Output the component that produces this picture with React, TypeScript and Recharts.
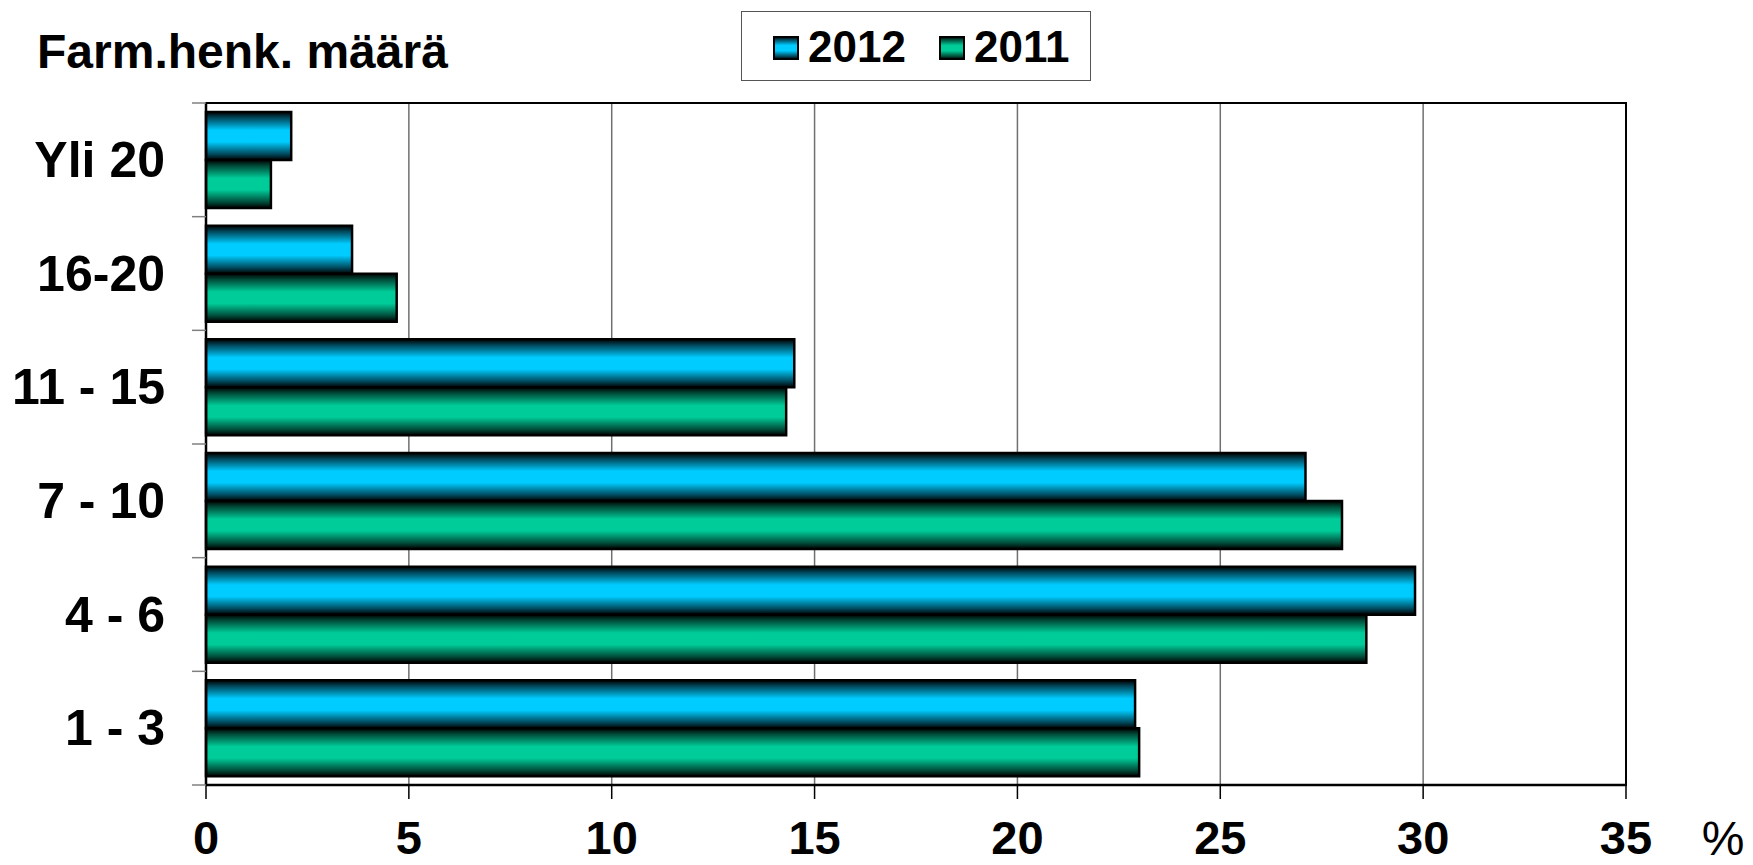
import React from 'react';
import { BarChart, Bar, XAxis, YAxis, CartesianGrid, ReferenceArea, Legend } from 'recharts';

const categories = ['Yli 20', '16-20', '11 - 15', '7 - 10', '4 - 6', '1 - 3'];
const values2012 = [2.1, 3.6, 14.5, 27.1, 29.8, 22.9];
const values2011 = [1.6, 4.7, 14.3, 28.0, 28.6, 23.0];
const xTicks = [0, 5, 10, 15, 20, 25, 30, 35];
const seriesNames = ['2012', '2011'];
const seriesColors = ['#00CCFF', '#00CC99'];
const title = 'Farm.henk. määrä';
const unitLabel = '%';

const data = categories.map((c, i) => ({ name: c, y2012: values2012[i], y2011: values2011[i] }));

const FONT = 'Arial, "Liberation Sans", Helvetica, sans-serif';

const YTick = (props: any) => {
  const { x, y, payload, index } = props;
  const half = payload && typeof payload.offset === 'number' && payload.offset > 0 ? payload.offset : 56.8;
  return (
    <g>
      <text x={x} y={y} textAnchor="end" dominantBaseline="central" fontFamily={FONT} fontWeight="bold" fontSize={50} fill="#000">
        {payload.value}
      </text>
      <line x1={x + 27} x2={x + 41} y1={y - half} y2={y - half} stroke="#808080" strokeWidth={1.5} />
      {index === categories.length - 1 && (
        <line x1={x + 27} x2={x + 41} y1={y + half} y2={y + half} stroke="#808080" strokeWidth={1.5} />
      )}
    </g>
  );
};

const LegendContent = () => (
  <div
    style={{
      width: 350,
      height: 70,
      border: '1px solid #555',
      background: '#fff',
      boxSizing: 'border-box',
      position: 'relative',
      fontFamily: FONT,
    }}
  >
    <svg width={350} height={70} style={{ position: 'absolute', left: 0, top: 0 }}>
      {seriesNames.map((n, i) => {
        const sx = i === 0 ? 32 : 198;
        return (
          <g key={n}>
            <rect x={sx} y={25} width={24} height={22} fill={`url(#grad${i})`} stroke="#000" strokeWidth={2} />
            <text x={sx + 34} y={50} fontFamily={FONT} fontWeight="bold" fontSize={44} fill="#000">
              {n}
            </text>
          </g>
        );
      })}
    </svg>
  </div>
);

export default function App() {
  return (
    <div style={{ position: 'absolute', left: 0, top: 0, width: 1753, height: 865, background: '#fff' }}>
      <BarChart
        width={1753}
        height={865}
        data={data}
        layout="vertical"
        margin={{ top: 103, right: 127, bottom: 0, left: 0 }}
        barCategoryGap={9}
        barGap={0}
      >
        <defs>
          <linearGradient id="grad0" x1="0" y1="0" x2="0" y2="1">
            <stop offset="0%" stopColor="#000000" />
            <stop offset="12%" stopColor="#00475a" />
            <stop offset="38%" stopColor={seriesColors[0]} />
            <stop offset="62%" stopColor={seriesColors[0]} />
            <stop offset="88%" stopColor="#00475a" />
            <stop offset="100%" stopColor="#000000" />
          </linearGradient>
          <linearGradient id="grad1" x1="0" y1="0" x2="0" y2="1">
            <stop offset="0%" stopColor="#000000" />
            <stop offset="12%" stopColor="#004a38" />
            <stop offset="38%" stopColor={seriesColors[1]} />
            <stop offset="62%" stopColor={seriesColors[1]} />
            <stop offset="88%" stopColor="#004a38" />
            <stop offset="100%" stopColor="#000000" />
          </linearGradient>
        </defs>
        <CartesianGrid horizontal={false} stroke="#707070" strokeWidth={1.5} />
        <XAxis
          type="number"
          domain={[0, 35]}
          ticks={xTicks}
          interval={0}
          height={80}
          axisLine={{ stroke: '#000', strokeWidth: 2.5 }}
          tickLine={{ stroke: '#000', strokeWidth: 1.5 }}
          tickSize={14}
          tickMargin={22}
          tick={{ fontFamily: FONT, fontWeight: 'bold', fontSize: 47, fill: '#000' }}
        />
        <YAxis
          type="category"
          dataKey="name"
          width={206}
          axisLine={{ stroke: '#000', strokeWidth: 2.5 }}
          tickLine={false}
          tickSize={0}
          tickMargin={41}
          interval={0}
          tick={<YTick />}
        />
        <ReferenceArea x1={0} x2={35} fill="none" stroke="#000" strokeWidth={2} ifOverflow="visible" />
        <Legend
          layout="horizontal"
          verticalAlign="middle"
          align="center"
          wrapperStyle={{ position: 'absolute', left: 741, top: 11, width: 350, height: 70 }}
          content={<LegendContent />}
        />
        <Bar dataKey="y2012" name={seriesNames[0]} fill="url(#grad0)" stroke="#000" strokeWidth={2.5} isAnimationActive={false} />
        <Bar dataKey="y2011" name={seriesNames[1]} fill="url(#grad1)" stroke="#000" strokeWidth={2.5} isAnimationActive={false} />
      </BarChart>
      <svg width={1753} height={865} style={{ position: 'absolute', left: 0, top: 0, pointerEvents: 'none' }}>
        <text x={37} y={68} fontFamily={FONT} fontWeight="bold" fontSize={48} fill="#000">
          {title}
        </text>
        <text x={1723} y={855} textAnchor="middle" fontFamily={FONT} fontSize={48} fill="#000">
          {unitLabel}
        </text>
      </svg>
    </div>
  );
}
